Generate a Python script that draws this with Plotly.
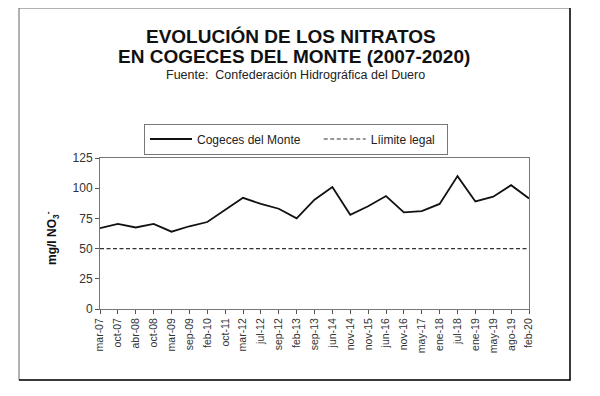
import plotly.graph_objects as go

categories = ["mar-07", "oct-07", "abr-08", "oct-08", "mar-09", "sep-09", "feb-10",
              "oct-11", "mar-12", "jul-12", "sep-12", "feb-13", "sep-13", "jun-14",
              "nov-14", "nov-15", "jun-16", "nov-16", "may-17", "ene-18", "jul-18",
              "ene-19", "may-19", "ago-19", "feb-20"]
nitratos = [67, 70.5, 67.5, 70.5, 64, 68.5, 72, 82, 92, 87, 83, 75, 90.5, 101,
            78, 85, 93.5, 80, 81, 87, 110, 89, 93, 102.5, 91.5]
limite = [50] * len(categories)
y_ticks = [0, 25, 50, 75, 100, 125]

OFF = 8  # browser body margin
W, H = 600 - OFF, 396 - OFF
L, R, T, B = 100, 529, 158, 309  # plot area in window pixels


def px(x):
    return (x - L) / (R - L)


def py(y):
    return (B - y) / (B - T)


FONT = "Liberation Sans, Arial, sans-serif"
xs = list(range(len(categories)))

fig = go.Figure()
fig.add_trace(go.Scatter(x=xs, y=nitratos, mode="lines",
                         name="Cogeces del Monte&nbsp;&nbsp;&nbsp;&nbsp;",
                         line=dict(color="#111111", width=1.8)))
fig.add_trace(go.Scatter(x=xs, y=limite, mode="lines", name="Líimite legal&nbsp;&nbsp;",
                         line=dict(color="#333333", width=1.2, dash="4px,2.5px")))

fig.update_layout(
    width=W, height=H,
    margin=dict(l=L - OFF, r=600 - R, t=T - OFF, b=396 - B, pad=0),
    paper_bgcolor="white", plot_bgcolor="white",
    font=dict(family=FONT, color="#222222"),
    showlegend=True,
    legend=dict(orientation="h", x=px(296), y=py(139), xanchor="center", yanchor="middle",
                bordercolor="#777777", borderwidth=1, bgcolor="white",
                font=dict(size=12, family=FONT, color="#222222"),
                itemwidth=42, tracegroupgap=0),
    xaxis=dict(range=[0, len(categories) - 1], tickmode="array", tickvals=xs,
               ticktext=categories, tickangle=-90, tickfont=dict(size=10.5, color="#333333"),
               showgrid=False, zeroline=False, showline=True, linecolor="#777777",
               linewidth=1, mirror=True, ticks="outside", ticklen=4, tickcolor="#555555"),
    yaxis=dict(range=[0, 125], tickmode="array", tickvals=y_ticks,
               tickfont=dict(size=12, color="#333333"),
               showgrid=False, zeroline=False, showline=True, linecolor="#777777",
               linewidth=1, mirror=True, ticks="outside", ticklen=4, tickcolor="#555555"),
    shapes=[
        dict(type="rect", xref="paper", yref="paper",
             x0=px(19), x1=px(570), y0=py(380), y1=py(8),
             line=dict(color="#666666", width=1), fillcolor="rgba(0,0,0,0)", layer="below"),
        dict(type="line", xref="paper", yref="paper",
             x0=px(19), x1=px(570.5), y0=py(380), y1=py(380),
             line=dict(color="#111111", width=1.5), layer="below"),
        dict(type="line", xref="paper", yref="paper",
             x0=px(570), x1=px(570), y0=py(380.5), y1=py(8),
             line=dict(color="#111111", width=1.5), layer="below"),
    ],
    annotations=[
        dict(text="<b>EVOLUCIÓN DE LOS NITRATOS</b>", x=px(291), y=py(36), xref="paper", yref="paper",
             showarrow=False, xanchor="center", yanchor="middle",
             font=dict(size=19, family=FONT, color="#111111")),
        dict(text="<b>EN COGECES DEL MONTE (2007-2020)</b>", x=px(294), y=py(57), xref="paper", yref="paper",
             showarrow=False, xanchor="center", yanchor="middle",
             font=dict(size=19, family=FONT, color="#111111")),
        dict(text="Fuente:&nbsp; Confederación Hidrográfica del Duero", x=px(295), y=py(75), xref="paper", yref="paper",
             showarrow=False, xanchor="center", yanchor="middle",
             font=dict(size=12.5, family=FONT, color="#222222")),
        dict(text="<b>mg/l NO<sub>3</sub><sup>-</sup></b>", x=px(52), y=py(238), xref="paper", yref="paper",
             showarrow=False, xanchor="center", yanchor="middle", textangle=-90,
             font=dict(size=12, family=FONT, color="#111111")),
    ],
)

fig.write_html("out.html")
